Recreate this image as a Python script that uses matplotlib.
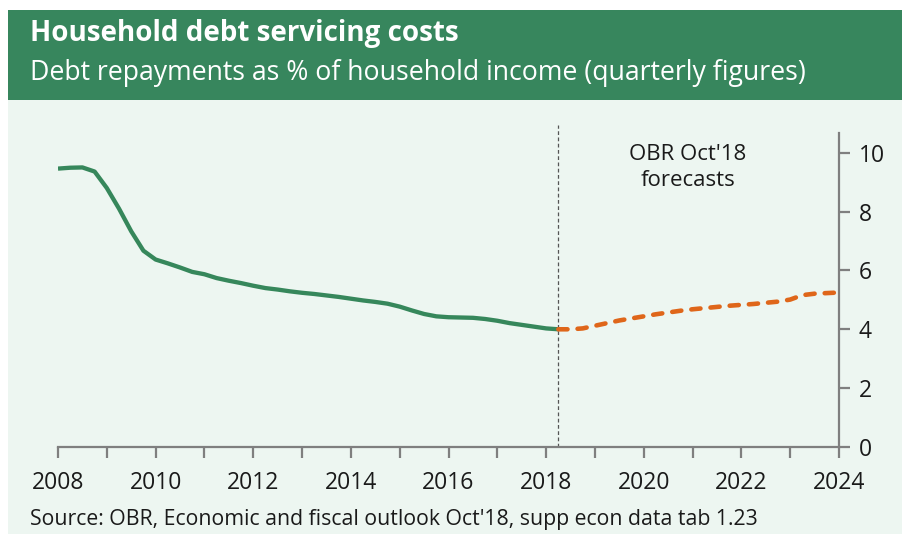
import matplotlib
matplotlib.use("Agg")
import matplotlib.pyplot as plt
from matplotlib.patches import Rectangle
import numpy as np

plt.rcParams['font.family'] = ['Open Sans', 'DejaVu Sans']

# Quarterly debt repayments as % of household income
actual_start = 2008.0
actual = [9.46, 9.49, 9.50, 9.36, 8.80, 8.10, 7.33, 6.67, 6.37, 6.24,
          6.10, 5.95, 5.87, 5.74, 5.65, 5.57, 5.48, 5.40, 5.35, 5.29,
          5.24, 5.20, 5.15, 5.10, 5.04, 4.98, 4.93, 4.87, 4.77, 4.64,
          4.52, 4.44, 4.41, 4.40, 4.39, 4.35, 4.29, 4.21, 4.15, 4.09,
          4.03, 4.00]
forecast_start = 2018.25
forecast = [4.00, 4.00, 4.03, 4.12, 4.21, 4.30, 4.37, 4.44, 4.51, 4.57,
            4.63, 4.68, 4.72, 4.76, 4.80, 4.83, 4.86, 4.90, 4.94, 5.01,
            5.16, 5.21, 5.23, 5.25]
forecast_label = "OBR Oct'18\nforecasts"
x_ticks_major = [2008, 2010, 2012, 2014, 2016, 2018, 2020, 2022, 2024]
y_ticks = [0, 2, 4, 6, 8, 10]

title = "Household debt servicing costs"
subtitle = "Debt repayments as % of household income (quarterly figures)"
source = "Source: OBR, Economic and fiscal outlook Oct'18, supp econ data tab 1.23"

HEADER = "#37865D"
BG = "#EDF6F1"
GREEN = "#36875B"
ORANGE = "#DF661A"
AXIS = "#7F7F7F"
TEXT = "#1A1A1A"

W, H = 903, 534
fig = plt.figure(figsize=(W / 100, H / 100), dpi=100)
fig.patch.set_facecolor("white")

# panel background and header band
fig.add_artist(Rectangle((8 / W, 0), 1, 1 - 100 / H,
                         transform=fig.transFigure, facecolor=BG,
                         edgecolor="none", zorder=-5))
fig.add_artist(Rectangle((8 / W, 1 - 100 / H), 1, 90 / H,
                         transform=fig.transFigure, facecolor=HEADER,
                         edgecolor="none", zorder=-5))
fig.text(30 / W, 1 - 33 / H, title, color="white", fontsize=20,
         fontweight="bold", va="center", ha="left")
fig.text(30 / W, 1 - 73 / H, subtitle, color="white", fontsize=19.15,
         va="center", ha="left")
fig.text(30 / W, 1 - 519 / H, source, color=TEXT, fontsize=15.35,
         va="center", ha="left")

# axes spanning 2008..2024 horizontally, 0..10.67 vertically
x0, x1 = 58, 839
y0, y1 = 447, 133
ax = fig.add_axes([x0 / W, 1 - y0 / H, (x1 - x0) / W, (y0 - y1) / H])
ax.set_facecolor("none")
ax.set_zorder(2)

xa = actual_start + 0.25 * np.arange(len(actual))
xf = forecast_start + 0.25 * np.arange(len(forecast))

ax.plot(xa, actual, color=GREEN, lw=3.1, solid_capstyle="butt", zorder=3)
ax.plot(xf, forecast, color=ORANGE, lw=3.3, dashes=(2.0, 2.2),
        dash_capstyle="round", zorder=3)
ax.axvline(forecast_start, ymin=0, ymax=1.025, clip_on=False,
           color="#555555", lw=0.9, ls=(0, (3, 2)), zorder=2)
ax.text(2020.9, 9.5, forecast_label, ha="center", va="center",
        fontsize=16, color=TEXT, linespacing=1.3)

ax.set_xlim(2008, 2024)
ax.set_ylim(0, 10.67)
ax.set_xticks(np.arange(2008, 2025, 1))
ax.set_xticklabels([str(y) if y in x_ticks_major else "" for y in range(2008, 2025)])
ax.set_yticks(y_ticks)
ax.yaxis.tick_right()

for s in ["top", "left"]:
    ax.spines[s].set_visible(False)
for s in ["bottom", "right"]:
    ax.spines[s].set_color(AXIS)
    ax.spines[s].set_linewidth(1.6)
ax.tick_params(axis="x", direction="out", length=8, width=1.6, color=AXIS,
               labelsize=16.5, labelcolor=TEXT, pad=9)
ax.tick_params(axis="y", direction="out", length=8, width=1.6, color=AXIS,
               labelsize=16.5, labelcolor=TEXT, pad=6)

fig.savefig("out.png", dpi=100, facecolor=fig.get_facecolor())
